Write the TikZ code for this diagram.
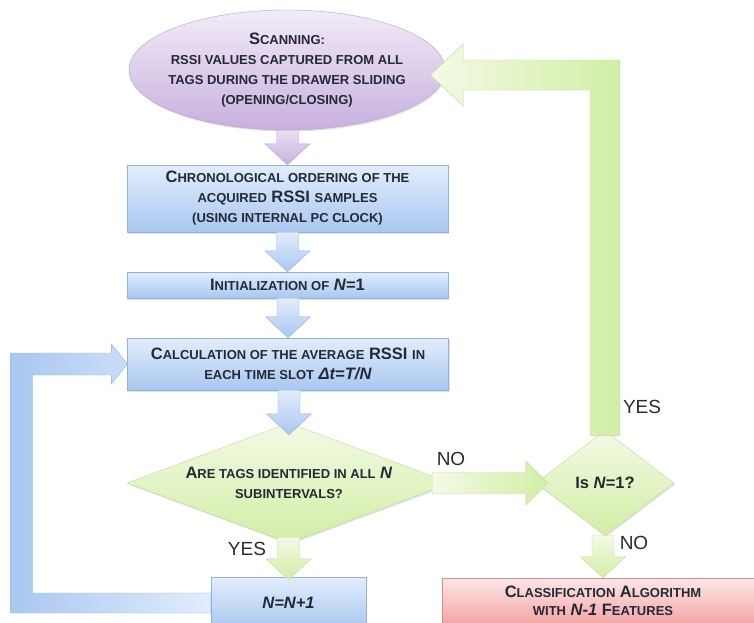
\documentclass[tikz,border=0pt]{standalone}
\usepackage{fontspec}
\setmainfont{Liberation Sans}
\usetikzlibrary{shapes.geometric,calc,shadows}

\definecolor{scanTop}{HTML}{F2EBF8}
\definecolor{scanBot}{HTML}{C8B0DE}
\definecolor{scanLine}{HTML}{B7A0CE}
\definecolor{blueTop}{HTML}{E2EDFC}
\definecolor{blueBot}{HTML}{A9C7F0}
\definecolor{blueLine}{HTML}{8EB3E2}
\definecolor{greenTop}{HTML}{F3FAE5}
\definecolor{greenBot}{HTML}{D2EEA5}
\definecolor{greenLine}{HTML}{BBDB92}
\definecolor{redTop}{HTML}{FDE7E7}
\definecolor{redBot}{HTML}{F3A5A5}
\definecolor{redLine}{HTML}{E08A8A}
\definecolor{txt}{HTML}{222A36}
\definecolor{lbltxt}{HTML}{2B2B2B}

% small caps made by hand
\newcommand{\sm}[1]{{\fontsize{13}{20}\selectfont\MakeUppercase{#1}}}

% block arrow going down, x taken from the target
\newcommand{\fatdown}[3]{%
  \path[#1] ($(#3 |- #2)+(-11,0)$) -- ($(#3 |- #2)+(11,0)$) -- ($(#3)+(11,-21)$)
    -- ($(#3)+(22.5,-21)$) -- (#3) -- ($(#3)+(-22.5,-21)$) -- ($(#3)+(-11,-21)$) -- cycle;}
% block arrow going right, y taken from the source
\newcommand{\fatright}[3]{%
  \path[#1] ($(#2)+(0,-10.5)$) -- ($(#3 |- #2)+(-22,-10.5)$) -- ($(#3 |- #2)+(-22,-22)$)
    -- (#3 |- #2) -- ($(#3 |- #2)+(-22,22)$) -- ($(#3 |- #2)+(-22,10.5)$) -- ($(#2)+(0,10.5)$) -- cycle;}

\tikzset{
  shade/.style={drop shadow={opacity=0.22,shadow xshift=1.2pt,shadow yshift=-1.5pt}},
  base/.style={text=txt, align=center, inner sep=0pt, font=\bfseries\fontsize{16.5}{20}\selectfont},
  scanshape/.style={base, ellipse, draw=scanLine, top color=scanTop, bottom color=scanBot,
    minimum width=316pt, minimum height=120pt, inner xsep=-30pt, inner ysep=-8pt, shade},
  box/.style={base, rectangle, draw=blueLine, top color=blueTop, bottom color=blueBot,
    minimum width=321pt, shade},
  decision/.style={base, diamond, draw=greenLine, top color=greenTop, bottom color=greenBot,
    shape aspect=2.7, shade},
  redbox/.style={base, rectangle, draw=redLine, top color=redTop, bottom color=redBot,
    minimum width=322pt, minimum height=46pt, font=\bfseries\fontsize{16.5}{18}\selectfont, shade},
  lbl/.style={text=lbltxt, inner sep=0pt, font=\fontsize{19}{20}\selectfont},
  purplearrow/.style={draw=scanLine, top color=scanTop!80!scanBot, bottom color=scanBot},
  bluearrow/.style={draw=blueLine, top color=blueTop, bottom color=blueBot},
  greenarrow/.style={draw=greenLine, top color=greenTop, bottom color=greenBot},
  greenside/.style={draw=greenLine, left color=greenTop, right color=greenBot},
}

\begin{document}
\begin{tikzpicture}[x=1pt,y=-1pt]
  \clip (0,0) rectangle (754,622);

  % shapes
  \node[scanshape] (scan) at (287,70) {S\sm{canning:}\\ \sm{rssi values captured from all}\\
    \sm{tags during the drawer sliding}\\ \sm{(opening/closing)}};
  \node[box, minimum height=67pt] (chrono) at (287.5,198.5) {C\sm{hronological ordering of the}\\
    \sm{acquired} RSSI \sm{samples}\\ \sm{(using internal pc clock)}};
  \node[box, minimum height=26pt] (init) at (287.5,285) {I\sm{nitialization of} \textit{N}=1};
  \node[box, minimum height=52pt] (calc) at (288,364) {C\sm{alculation of the average} RSSI \sm{in}\\
    \sm{each time slot} \textit{Δt=T/N}};
  \node[decision, minimum width=324pt, minimum height=120pt] (tags) at (289,483)
    {A\sm{re tags identified in all} \textit{N}\\ \sm{subintervals?}};
  \node[decision, minimum width=138pt, minimum height=105pt] (isone) at (605,483) {Is \textit{N}=1?};
  \node[box, minimum width=155pt, minimum height=52pt] (incr) at (288.5,603) {\textit{N=N+1}};
  \node[redbox] (classify) at (603,601) {C\sm{lassification} A\sm{lgorithm}\\
    \sm{with} \textit{N-1} F\sm{eatures}};

  % free ends
  \coordinate (tagstop) at ($(tags.north)+(0,12)$);
  \coordinate (tagsbot) at ($(tags.south)+(0,-6)$);
  \coordinate (incrtop) at ($(incr.north)+(0,3)$);
  \coordinate (noA) at ($(tags.east)+(-19,0)$);
  \coordinate (noB) at ($(isone.west)+(12,0)$);
  \coordinate (yestip) at ($(scan.east)+(-15,5)$);
  \coordinate (yescorner) at (isone.north |- yestip);
  \coordinate (loopx) at (21.5,0);

  % straight block arrows
  \fatdown{purplearrow}{scan.south}{chrono.north}
  \fatdown{bluearrow}{chrono.south}{init.north}
  \fatdown{bluearrow}{init.south}{calc.north}
  \fatdown{bluearrow}{calc.south}{tagstop}
  \fatdown{greenarrow}{tagsbot}{incrtop}
  \fatdown{greenarrow}{isone.south}{classify.north}
  \fatright{greenside}{noA}{noB}

  % YES back to scanning
  \path[draw=greenLine, left color=greenTop, right color=greenBot]
    ($(isone.north)+(-15,5)$) -- ($(isone.north)+(15,5)$) -- ($(yescorner)+(15,-15)$)
    -- ($(yestip)+(33,-15)$) -- ($(yestip)+(33,-31)$) -- (yestip) -- ($(yestip)+(33,31)$)
    -- ($(yestip)+(33,15)$) -- ($(yescorner)+(-15,15)$) -- cycle;

  % loop from N=N+1 back to the calculation
  \path[draw=blueLine, left color=blueBot, right color=blueTop]
    ($(incr.west)+(0,-10)$) -- ($(loopx |- incr.west)+(11,-10)$) -- ($(loopx |- calc.west)+(11,11)$)
    -- ($(calc.west)+(-16,11)$) -- ($(calc.west)+(-16,20)$) -- (calc.west) -- ($(calc.west)+(-16,-20)$)
    -- ($(calc.west)+(-16,-11)$) -- ($(loopx |- calc.west)+(-11,-11)$) -- ($(loopx |- incr.west)+(-11,10)$)
    -- ($(incr.west)+(0,10)$) -- cycle;

  % labels
  \node[lbl] (yes1) at (247,549) {YES};
  \node[lbl] (no1) at (451,459) {NO};
  \node[lbl] (yes2) at (642,407) {YES};
  \node[lbl] (no2) at (634,543) {NO};
\end{tikzpicture}
\end{document}
